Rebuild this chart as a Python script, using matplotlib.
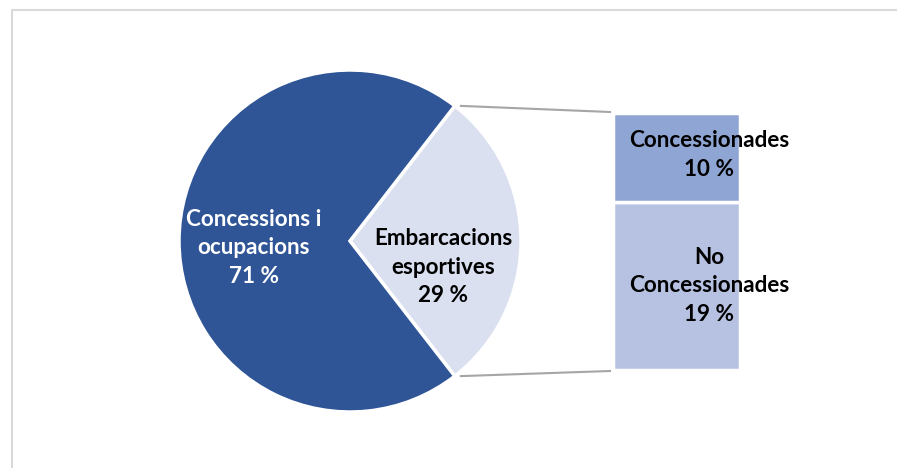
import numpy as np
import matplotlib.pyplot as plt

# data
pie_labels = ['Embarcacions\nesportives', 'Concessions i\nocupacions']
pie_values = [29, 71]
pie_colors = ['#DAE0F0', '#2F5597']

bar_labels = ['No\nConcessionades', 'Concessionades']
bar_values = [19, 10]
bar_colors = ['#B7C2E2', '#8FA5D4']

W, H = 897, 468
fig = plt.figure(figsize=(W / 100, H / 100), dpi=100)

# bar of pie (drawn underneath the main axes so labels sit on top)
bx0, bx1 = 613, 740
by0, by1 = H - 370, H - 113
bax = fig.add_axes([bx0 / W, by0 / H, (bx1 - bx0) / W, (by1 - by0) / H])
bax.set_xlim(-0.5, 0.5)
bax.set_ylim(0, sum(bar_values))
bax.axis('off')
bottom = 0
for v, c in zip(bar_values, bar_colors):
    bax.bar(0, v, width=1.0, bottom=bottom, color=c, edgecolor='white', linewidth=2.5)
    bottom += v

ax = fig.add_axes([0, 0, 1, 1])
ax.set_zorder(2)
ax.patch.set_alpha(0)

# light frame (top and left only visible)
ax.plot([12, 12, W], [0, H - 10, H - 10], color='#D9D9D9', lw=1.5, solid_capstyle='butt')

cx, cy, r = 350, H - 241, 171
half = pie_values[0] / 100 * 360 / 2
expl = 0.012
ax.pie(pie_values, colors=pie_colors, startangle=-half, counterclock=True,
       center=(cx, cy), radius=r, explode=[expl, 0],
       wedgeprops=dict(edgecolor='white', linewidth=2.5), frame=True)
ax.set_xlim(0, W)
ax.set_ylim(0, H)
ax.set_aspect('equal')
ax.axis('off')

fs = 16.2
tkw = dict(ha='center', va='center', fontsize=fs, fontweight='bold', family='Lato',
           linespacing=1.45)
ax.text(254, H - 248, pie_labels[1] + '\n%d %%' % pie_values[1], color='white', **tkw)
ax.text(443, H - 267, pie_labels[0] + '\n%d %%' % pie_values[0], color='black', **tkw)

lab_x = 709
ax.text(lab_x, H - 286, bar_labels[0] + '\n%d %%' % bar_values[0], color='black', **tkw)
ax.text(lab_x, H - 155, bar_labels[1] + '\n%d %%' % bar_values[1], color='black', **tkw)

# connector lines
ox = cx + expl * r
for ang, by in [(half, by1 + 1), (-half, by0 - 1)]:
    px = ox + r * np.cos(np.radians(ang)) + 4
    py = cy + r * np.sin(np.radians(ang))
    ax.plot([px, bx0 - 3], [py, by], color='#A6A6A6', lw=1.5)

fig.savefig('out.png', dpi=100)
